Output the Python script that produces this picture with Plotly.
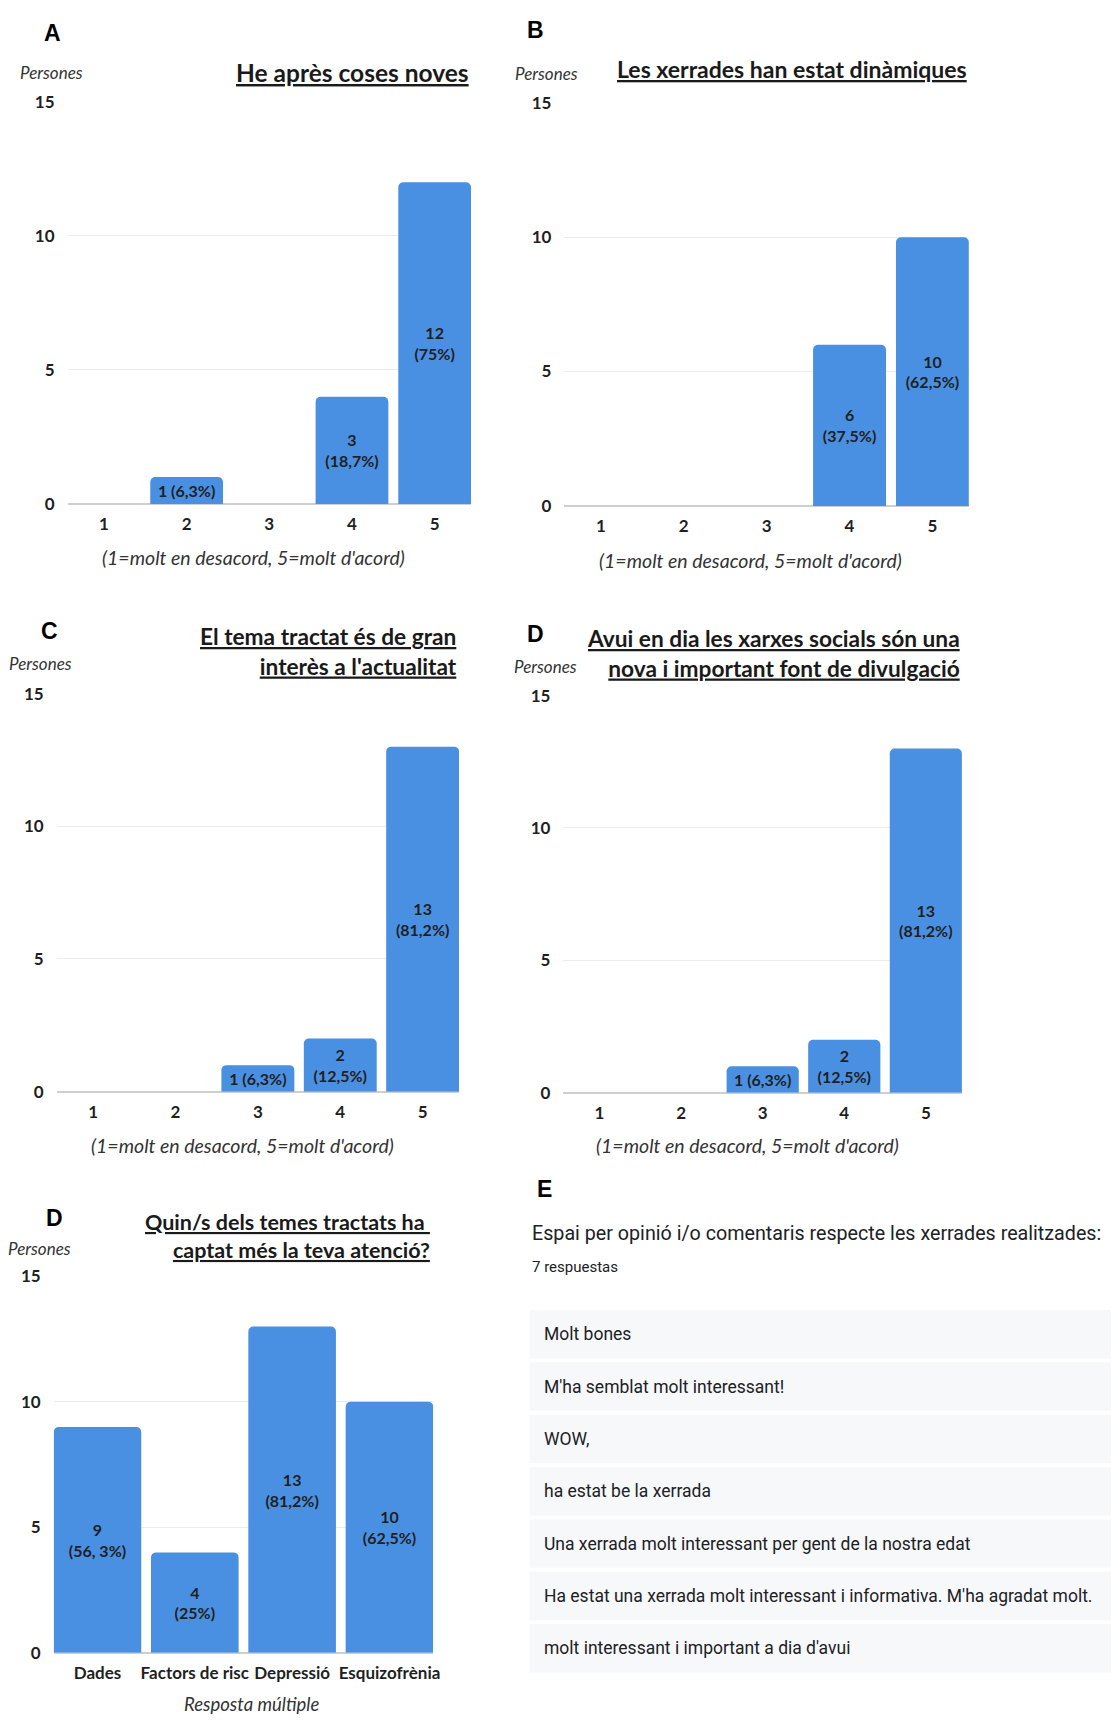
import plotly.graph_objects as go

W, H = 1118, 1723


def X(p):
    return p / float(W)


def Y(p):
    return 1 - p / float(H)


# ---------------- data ----------------
likert = ["1", "2", "3", "4", "5"]

a_vals = [0, 1, 0, 4, 12]
a_text = ["", "1 (6,3%)", "", "3<br>(18,7%)", "12<br>(75%)"]

b_vals = [0, 0, 0, 6, 10]
b_text = ["", "", "", "6<br>(37,5%)", "10<br>(62,5%)"]

c_vals = [0, 0, 1, 2, 13]
c_text = ["", "", "1 (6,3%)", "2<br>(12,5%)", "13<br>(81,2%)"]

d_vals = [0, 0, 1, 2, 13]
d_text = ["", "", "1 (6,3%)", "2<br>(12,5%)", "13<br>(81,2%)"]

topics = ["Dades", "Factors de risc", "Depressió", "Esquizofrènia"]
t_vals = [9, 4, 13, 10]
t_text = ["9<br>(56, 3%)", "4<br>(25%)", "13<br>(81,2%)", "10<br>(62,5%)"]

y_ticks = [0, 5, 10, 15]

comments_title = "Espai per opinió i/o comentaris respecte les xerrades realitzades:"
comments_count = "7 respuestas"
comments = [
    "Molt bones",
    "M'ha semblat molt interessant!",
    "WOW,",
    "ha estat be la xerrada",
    "Una xerrada molt interessant per gent de la nostra edat",
    "Ha estat una xerrada molt interessant i informativa. M'ha agradat molt.",
    "molt interessant i important a dia d'avui",
]

likert_title = "(1=molt en desacord, 5=molt d'acord)"
topics_title = "Resposta múltiple"

# ---------------- style ----------------
BLUE = "#4A90E2"
FONT = "Lato"
TXT = "#1f1f1f"

panels = [
    dict(letter="A", cats=likert, vals=a_vals, text=a_text, bw=0.88,
         title="He après coses noves", ts=24.5, xt=likert_title, xts=19.5,
         x0=68, x1=474, yb=499, yt=92,
         letter_xy=(53, 22), pers_xy=(52, 62), title_xy=(474, 62), xt_xy=(255, 553)),
    dict(letter="B", cats=likert, vals=b_vals, text=b_text, bw=0.88,
         title="Les xerrades han estat dinàmiques", ts=23, xt=likert_title, xts=19.5,
         x0=568, x1=975, yb=501, yt=93,
         letter_xy=(539, 19), pers_xy=(550, 63), title_xy=(975, 59), xt_xy=(755, 556)),
    dict(letter="C", cats=likert, vals=c_vals, text=c_text, bw=0.885,
         title="El tema tractat és de gran<br>interès a l'actualitat", ts=22.7,
         xt=likert_title, xts=19.5,
         x0=57, x1=462, yb=1094, yt=691,
         letter_xy=(50, 628), pers_xy=(41, 661), title_xy=(462, 648), xt_xy=(244, 1149)),
    dict(letter="D", cats=likert, vals=d_vals, text=d_text, bw=0.885,
         title="Avui en dia les xarxes socials són una<br>nova i important font de divulgació",
         ts=22.7, xt=likert_title, xts=19.5,
         x0=567, x1=968, yb=1095, yt=693,
         letter_xy=(539, 631), pers_xy=(549, 664), title_xy=(968, 650), xt_xy=(752, 1149)),
    dict(letter="D", cats=topics, vals=t_vals, text=t_text, bw=0.9,
         title="Quin/s dels temes tractats ha <br>captat més la teva atenció?", ts=21.5,
         xt=topics_title, xts=18.5,
         x0=54, x1=436, yb=1662, yt=1281,
         letter_xy=(55, 1222), pers_xy=(40, 1253), title_xy=(435, 1240), xt_xy=(253, 1714)),
]

fig = go.Figure()
annotations = []
shapes = []
layout_axes = {}

for i, p in enumerate(panels):
    k = "" if i == 0 else str(i + 1)
    n = len(p["cats"])
    half = p["bw"] / 2.0
    fig.add_trace(go.Bar(
        x=p["cats"], y=p["vals"], text=p["text"],
        xaxis="x" + k, yaxis="y" + k,
        marker=dict(color=BLUE, line=dict(width=0)),
        width=p["bw"],
        textposition="inside", insidetextanchor="middle",
        constraintext="none", textangle=0,
        textfont=dict(family=FONT, size=16, color=TXT, weight="bold"),
        cliponaxis=False, showlegend=False, hoverinfo="skip",
    ))
    layout_axes["xaxis" + k] = dict(
        domain=[X(p["x0"]), X(p["x1"])], anchor="y" + k,
        type="category", range=[-half, n - 1 + half],
        showgrid=False, zeroline=False, showline=False, ticks="",
        tickfont=dict(family=FONT, size=17, color=TXT, weight="bold"),
        ticklabelstandoff=8, fixedrange=True,
    )
    layout_axes["yaxis" + k] = dict(
        domain=[Y(p["yb"]), Y(p["yt"])], anchor="x" + k,
        range=[0, 15], tickvals=y_ticks,
        showgrid=True, gridcolor="#ececec", gridwidth=1,
        zeroline=True, zerolinecolor="#cfcfcf", zerolinewidth=2,
        showline=False, ticks="",
        tickfont=dict(family=FONT, size=17, color=TXT, weight="bold"),
        ticklabelstandoff=12, fixedrange=True,
    )
    lx, ly = p["letter_xy"]
    annotations.append(dict(text="<b>%s</b>" % p["letter"], x=X(lx), y=Y(ly),
                            xref="paper", yref="paper", showarrow=False,
                            xanchor="center", yanchor="middle",
                            font=dict(family="Liberation Sans", size=23, color="#000")))
    px_, py_ = p["pers_xy"]
    annotations.append(dict(text="<i>Persones</i>", x=X(px_), y=Y(py_),
                            xref="paper", yref="paper", showarrow=False,
                            xanchor="center", yanchor="middle",
                            font=dict(family=FONT, size=17, color="#333")))
    tx, ty = p["title_xy"]
    lines = p["title"].split("<br>")
    ttl = "<br>".join("<b><u>%s</u></b>" % ln for ln in lines)
    annotations.append(dict(text=ttl, x=X(tx), y=Y(ty),
                            xref="paper", yref="paper", showarrow=False,
                            xanchor="right", yanchor="middle", align="right",
                            font=dict(family=FONT, size=p["ts"], color="#1a1a1a")))
    xx, xy = p["xt_xy"]
    annotations.append(dict(text="<i>%s</i>" % p["xt"], x=X(xx), y=Y(xy),
                            xref="paper", yref="paper", showarrow=False,
                            xanchor="center", yanchor="middle",
                            font=dict(family=FONT, size=p["xts"], color="#333")))

# ---------------- panel E ----------------
annotations.append(dict(text="<b>E</b>", x=X(548), y=Y(1193),
                        xref="paper", yref="paper", showarrow=False,
                        xanchor="center", yanchor="middle",
                        font=dict(family="Liberation Sans", size=23, color="#000")))
annotations.append(dict(text=comments_title, x=X(533), y=Y(1238),
                        xref="paper", yref="paper", showarrow=False,
                        xanchor="left", yanchor="middle",
                        font=dict(family="Roboto", size=19.7, color="#202124")))
annotations.append(dict(text=comments_count, x=X(533), y=Y(1272),
                        xref="paper", yref="paper", showarrow=False,
                        xanchor="left", yanchor="middle",
                        font=dict(family="Roboto", size=15, color="#202124")))

box_top0 = 1315.0
pitch = 53.0
box_h = 49.0
for j, c in enumerate(comments):
    top = box_top0 + j * pitch
    shapes.append(dict(type="rect", xref="paper", yref="paper",
                       x0=X(533), x1=X(1118), y0=Y(top + box_h), y1=Y(top),
                       fillcolor="#f7f8fa", line=dict(width=0), layer="below"))
    annotations.append(dict(text=c, x=X(545), y=Y(top + box_h / 2),
                            xref="paper", yref="paper", showarrow=False,
                            xanchor="left", yanchor="middle",
                            font=dict(family="Roboto", size=17.5, color="#202124")))

fig.update_layout(
    width=W, height=H,
    margin=dict(l=0, r=0, t=0, b=0),
    paper_bgcolor="white", plot_bgcolor="white",
    barcornerradius=5,
    annotations=annotations, shapes=shapes,
    **layout_axes,
)

fig.write_html(
    "out.html",
    config={"displayModeBar": False, "staticPlot": True},
    post_script="document.body.style.margin='0px';document.body.style.overflow='hidden';",
)
